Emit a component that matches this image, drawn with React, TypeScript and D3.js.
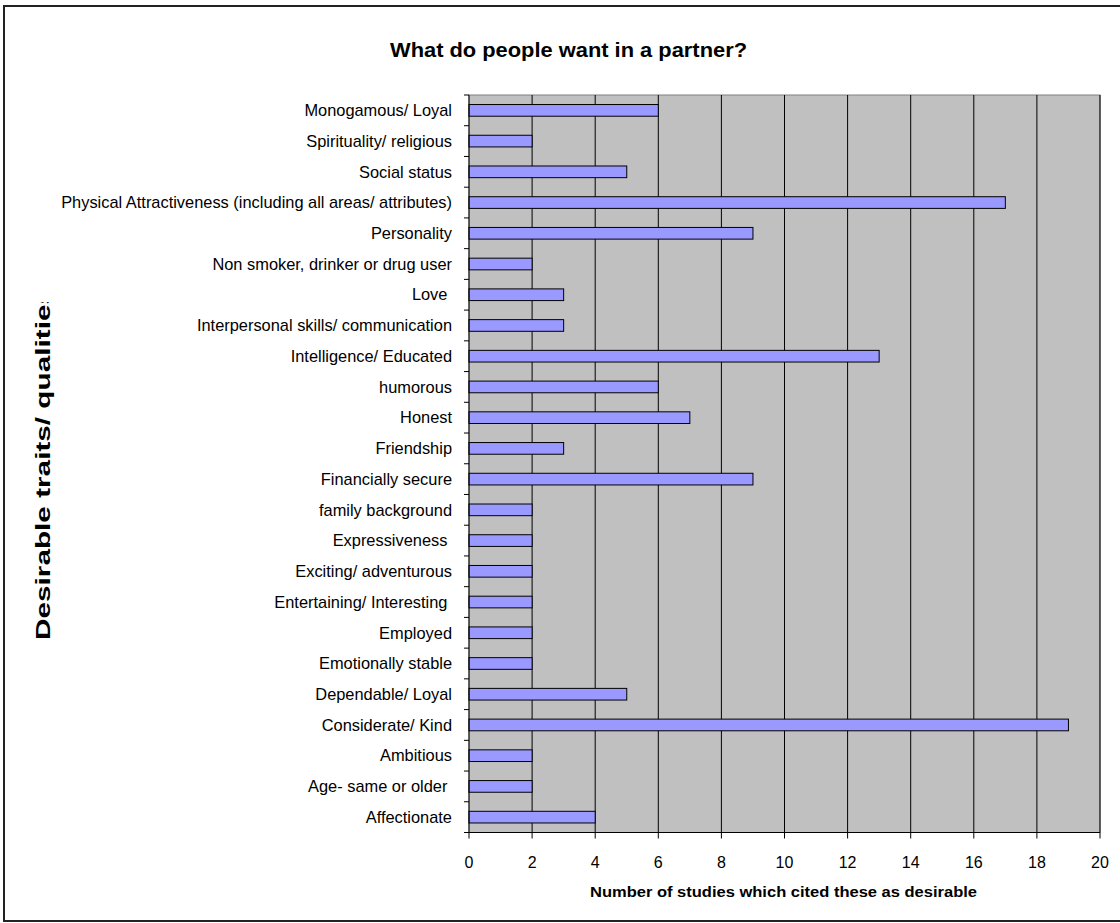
import React from "react";
import * as d3 from "d3";

const categories = [
  "Monogamous/ Loyal",
  "Spirituality/ religious",
  "Social status",
  "Physical Attractiveness (including all areas/ attributes)",
  "Personality",
  "Non smoker, drinker or drug user",
  "Love ",
  "Interpersonal skills/ communication",
  "Intelligence/ Educated",
  "humorous",
  "Honest",
  "Friendship",
  "Financially secure",
  "family background",
  "Expressiveness ",
  "Exciting/ adventurous",
  "Entertaining/ Interesting ",
  "Employed",
  "Emotionally stable",
  "Dependable/ Loyal",
  "Considerate/ Kind",
  "Ambitious",
  "Age- same or older ",
  "Affectionate",
];
const values = [6, 2, 5, 17, 9, 2, 3, 3, 13, 6, 7, 3, 9, 2, 2, 2, 2, 2, 2, 5, 19, 2, 2, 4];
const xTicks = [0, 2, 4, 6, 8, 10, 12, 14, 16, 18, 20];

const title = "What do people want in a partner?";
const xTitle = "Number of studies which cited these as desirable";
const yTitle = "Desirable traits/ qualities";

export default function App() {
  const W = 1120, H = 923;
  const left = 469, right = 1100, top = 95, bottom = 832.5;
  const x = d3.scaleLinear().domain([0, 20]).range([left, right]);
  const y = d3.scaleBand().domain(categories).range([top, bottom]).paddingInner(0.62).paddingOuter(0.31);
  const band = (bottom - top) / categories.length;
  const font = "'Liberation Sans', Arial, sans-serif";
  return (
    <svg width={W} height={H} style={{ position: "absolute", left: 0, top: 0, background: "#fff" }} fontFamily={font}>
      <defs>
        <clipPath id="yclip">
          <rect x={0} y={302} width={120} height={600} />
        </clipPath>
      </defs>
      <rect x={4} y={6} width={1130} height={915} fill="#fff" stroke="#222" strokeWidth={2} />
      <text x={568.5} y={57} textAnchor="middle" fontWeight="bold" fontSize={20} textLength={357} lengthAdjust="spacingAndGlyphs">{title}</text>
      <rect x={left} y={top} width={right - left} height={bottom - top} fill="#C0C0C0" stroke="#808080" strokeWidth={1} />
      {xTicks.slice(1).map((t) => (
        <line key={"g" + t} x1={x(t)} x2={x(t)} y1={top} y2={bottom} stroke="#000" strokeWidth={1} />
      ))}
      {categories.map((c, i) => (
        <rect key={"b" + i} x={x(0)} y={y(c)!} width={x(values[i]) - x(0)} height={y.bandwidth()} fill="#9999FF" stroke="#000" strokeWidth={1} />
      ))}
      <line x1={left} x2={left} y1={top} y2={bottom} stroke="#000" strokeWidth={1} />
      <line x1={left} x2={right} y1={bottom} y2={bottom} stroke="#000" strokeWidth={1} />
      {d3.range(categories.length + 1).map((i) => (
        <line key={"yt" + i} x1={left - 5} x2={left} y1={top + i * band} y2={top + i * band} stroke="#000" />
      ))}
      {categories.map((c, i) => (
        <text key={"l" + i} x={452} y={y(c)! + y.bandwidth() / 2} dy="0.35em" textAnchor="end" fontSize={16.4} style={{ whiteSpace: "pre" }}>{c}</text>
      ))}
      {xTicks.map((t) => (
        <g key={"xt" + t}>
          <line x1={x(t)} x2={x(t)} y1={bottom} y2={bottom + 6} stroke="#000" />
          <text x={x(t)} y={862} dy="0.35em" textAnchor="middle" fontSize={16}>{t}</text>
        </g>
      ))}
      <text x={783.5} y={892} dy="0.35em" textAnchor="middle" fontWeight="bold" fontSize={15} textLength={387} lengthAdjust="spacingAndGlyphs">{xTitle}</text>
      <g clipPath="url(#yclip)">
        <text transform={`translate(43,464) rotate(-90)`} dy="0.35em" textAnchor="middle" fontWeight="bold" fontSize={20} textLength={352} lengthAdjust="spacingAndGlyphs">{yTitle}</text>
      </g>
    </svg>
  );
}
